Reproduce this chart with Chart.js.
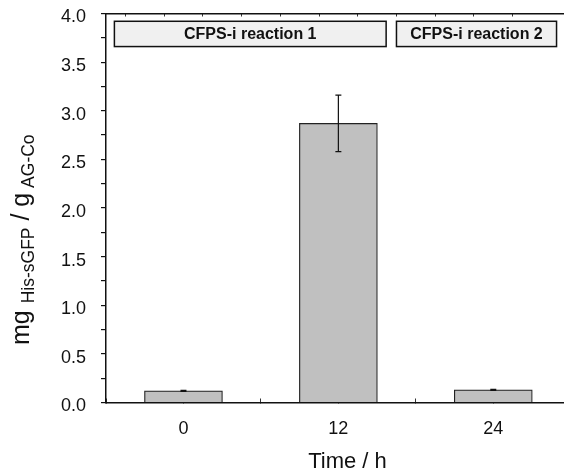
<!DOCTYPE html>
<html>
<head>
<meta charset="utf-8">
<script src="https://cdn.jsdelivr.net/npm/chart.js@4.4.1/dist/chart.umd.min.js"></script>
<style>
  html, body { margin: 0; padding: 0; background: #fff; }
  #wrap { width: 564px; height: 470px; }
</style>
</head>
<body>
<div id="wrap"><canvas id="yieldChart" width="564" height="470"></canvas></div>
<script>
// time points (h) and immobilised protein yield (mg His-sGFP per g AG-Co)
const hours = [0, 12, 24];
const yields = [0.12, 2.87, 0.13];
const errors = [0.005, 0.29, 0.005];
const phaseNames = ['CFPS-i reaction 1', 'CFPS-i reaction 2'];

const FONT = "'Liberation Sans', Arial, sans-serif";
Chart.defaults.font.family = FONT;

const phaseBoxes = {
    id: 'phaseBoxes',
    afterDatasetsDraw(chart, args, opts) {
        const { ctx, scales: { x, y } } = chart;
        ctx.save();

        // error bars
        ctx.strokeStyle = '#111';
        ctx.lineWidth = 1.2;
        hours.forEach((h, i) => {
            const px = x.getPixelForValue(h);
            const top = y.getPixelForValue(yields[i] + errors[i]);
            const bot = y.getPixelForValue(yields[i] - errors[i]);
            ctx.beginPath();
            ctx.moveTo(px, top); ctx.lineTo(px, bot);
            ctx.moveTo(px - 3, top); ctx.lineTo(px + 3, top);
            ctx.moveTo(px - 3, bot); ctx.lineTo(px + 3, bot);
            ctx.stroke();
        });

        // reaction phase boxes
        const y1 = y.getPixelForValue(opts.yTop);
        const y2 = y.getPixelForValue(opts.yBottom);
        ctx.font = 'bold 16px ' + FONT;
        ctx.textAlign = 'center';
        ctx.textBaseline = 'middle';
        opts.ranges.forEach((r, i) => {
            const x1 = x.getPixelForValue(r[0]);
            const x2 = x.getPixelForValue(r[1]);
            ctx.fillStyle = '#f0f0f0';
            ctx.fillRect(x1, y1, x2 - x1, y2 - y1);
            ctx.strokeStyle = '#111';
            ctx.lineWidth = 1.5;
            ctx.strokeRect(x1, y1, x2 - x1, y2 - y1);
            ctx.fillStyle = '#111';
            ctx.fillText(phaseNames[i], (x1 + x2) / 2, (y1 + y2) / 2 + 1);
        });
        ctx.restore();
    },
    afterDraw(chart) {
        const ctx = chart.ctx;
        ctx.save();
        ctx.fillStyle = '#111';
        ctx.textBaseline = 'alphabetic';

        // x title
        ctx.font = '22px ' + FONT;
        ctx.textAlign = 'center';
        ctx.fillText('Time / h', 347.5, 468);

        // y title with subscripts, rotated
        ctx.translate(29, 345);
        ctx.rotate(-Math.PI / 2);
        ctx.textAlign = 'left';
        const parts = [
            ['mg ', 25, 0],
            ['His-sGFP', 17.5, 5],
            [' / g', 25, 0],
            [' AG-Co', 17.5, 5]
        ];
        let cx = 0;
        parts.forEach(p => {
            ctx.font = p[1] + 'px ' + FONT;
            ctx.fillText(p[0], cx, p[2]);
            cx += ctx.measureText(p[0]).width;
        });
        ctx.restore();
    }
};

const ctx = document.getElementById('yieldChart').getContext('2d');
new Chart(ctx, {
    type: 'bar',
    data: {
        datasets: [{
            data: hours.map((h, i) => ({ x: h, y: yields[i] })),
            backgroundColor: '#c0c0c0',
            borderColor: '#222',
            borderWidth: 1.2,
            barThickness: 78
        }]
    },
    options: {
        responsive: false,
        animation: false,
        layout: { padding: { left: 0, right: 1, top: 0, bottom: 0 } },
        plugins: {
            legend: { display: false },
            tooltip: { enabled: false },
            phaseBoxes: {
                ranges: [[-5.35, 15.7], [16.5, 28.9]],
                yTop: 3.92,
                yBottom: 3.66
            }
        },
        scales: {
            x: {
                type: 'linear',
                position: 'bottom',
                min: -6,
                max: 29.4,
                offset: false,
                afterBuildTicks: s => { s.ticks = s.ticks.filter(t => t.value % 6 === 0); },
                afterFit: s => { s.height = 67.5; s.paddingLeft = 0; s.paddingRight = 0; },
                grid: { drawOnChartArea: false, offset: false, tickLength: -4, color: '#333', lineWidth: 1 },
                border: { color: '#111', width: 1.5 },
                ticks: {
                    stepSize: 6,
                    autoSkip: false,
                    maxRotation: 0,
                    padding: 20,
                    color: '#111',
                    font: { size: 18 },
                    callback: v => hours.includes(v) ? String(v) : ''
                }
            },
            x2: {
                type: 'linear',
                position: 'top',
                min: -6,
                max: 29.4,
                offset: false,
                afterBuildTicks: s => { s.ticks = s.ticks.filter(t => t.value % 3 === 0); },
                afterFit: s => { s.height = 13.5; s.paddingLeft = 0; s.paddingRight = 0; },
                grid: { drawOnChartArea: false, tickLength: -3, color: '#333', lineWidth: 1 },
                border: { color: '#111', width: 1.5 },
                ticks: { display: false, stepSize: 3 }
            },
            y: {
                min: 0,
                max: 4,
                afterFit: s => { s.width = 106; s.paddingTop = 0; s.paddingBottom = 0; },
                grid: { drawOnChartArea: false, tickLength: 5, color: '#111', lineWidth: 1.2 },
                border: { color: '#111', width: 1.5 },
                ticks: {
                    stepSize: 0.25,
                    autoSkip: false,
                    padding: 15,
                    labelOffset: 4,
                    color: '#111',
                    font: { size: 18 },
                    callback: v => (v * 2) % 1 === 0 ? v.toFixed(1) : ''
                }
            }
        }
    },
    plugins: [phaseBoxes]
});
</script>
</body>
</html>
